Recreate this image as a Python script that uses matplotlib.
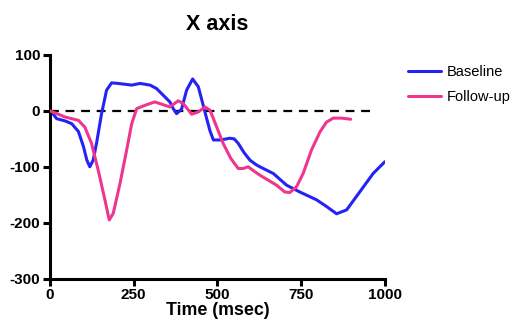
import matplotlib
matplotlib.use("Agg")
import matplotlib.pyplot as plt

plt.rcParams['font.family'] = ['Liberation Sans', 'DejaVu Sans']

base_x = [0, 5, 20, 45, 65, 85, 100, 110, 119, 129, 139, 154, 169, 184, 204, 244, 269, 299,
          318, 338, 358, 368, 378, 393, 408, 426, 443, 458, 468, 478, 488, 510, 537, 550, 562,
          580, 597, 615, 627, 667, 707, 746, 796, 826, 856, 886, 925, 965, 1000]
base_y = [0, -2, -14, -18, -23, -37, -64, -88, -100, -88, -58, -5, 37, 50, 49, 46, 49, 46,
          40, 28, 16, 4, -5, 3, 37, 57, 43, 9, -14, -36, -52, -52, -49, -50, -58,
          -75, -88, -96, -100, -112, -133, -145, -159, -171, -184, -177, -145, -112, -91]

fu_x = [0, 45, 85, 104, 124, 144, 164, 177, 189, 209, 229, 244, 259, 284, 313, 328, 358,
        383, 398, 423, 443, 463, 478, 498, 517, 540, 562, 577, 592, 610, 627, 677, 701,
        716, 736, 756, 781, 806, 826, 846, 871, 898]
fu_y = [0, -11, -17, -29, -58, -106, -159, -195, -183, -130, -70, -23, 4, 10, 16, 13, 7,
        18, 13, -6, -2, 7, 1, -29, -58, -85, -103, -103, -100, -108, -115, -133, -145,
        -146, -136, -112, -70, -38, -20, -13, -13, -15]

ref_x = [0, 960]
ref_y = [0, 0]

xticks = [0, 250, 500, 750, 1000]
yticks = [-300, -200, -100, 0, 100]

fig = plt.figure(figsize=(5.24, 3.34), dpi=100)
ax = fig.add_axes([0.0954, 0.1656, 0.639, 0.670])

ax.plot(ref_x, ref_y, color='black', lw=1.6, ls=(0, (4, 3)), zorder=1)
ax.plot(base_x, base_y, color='#2323F5', lw=2.2, label='Baseline', zorder=2,
        solid_joinstyle='round', solid_capstyle='round')
ax.plot(fu_x, fu_y, color='#F0358F', lw=2.2, label='Follow-up', zorder=3,
        solid_joinstyle='round', solid_capstyle='round')

ax.set_xlim(0, 1000)
ax.set_ylim(-300, 100)
ax.set_xticks(xticks)
ax.set_yticks(yticks)
ax.set_xticklabels([str(t) for t in xticks], fontweight='bold', fontsize=11)
ax.set_yticklabels([str(t) for t in yticks], fontweight='bold', fontsize=11)
for s in ['top', 'right']:
    ax.spines[s].set_visible(False)
for s in ['left', 'bottom']:
    ax.spines[s].set_linewidth(2.2)
ax.tick_params(axis='both', direction='out', width=2.2, length=5, pad=2)
ax.set_xlabel('Time (msec)', fontweight='bold', fontsize=12.8, labelpad=0)
ax.set_title('X axis', fontweight='bold', fontsize=15.5, pad=18)

leg = ax.legend(loc='upper left', bbox_to_anchor=(1.029, 1.013), frameon=False, fontsize=10.5,
                handlelength=2.3, handletextpad=0.4, labelspacing=0.77)
for h in leg.get_lines():
    h.set_linewidth(2.2)

fig.savefig('out.png', dpi=100)
